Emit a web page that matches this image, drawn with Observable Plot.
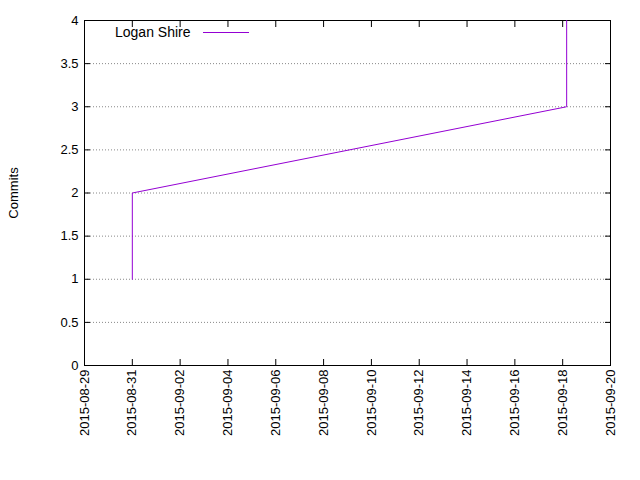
<!DOCTYPE html>
<html>
<head>
<meta charset="utf-8">
<script src="https://cdn.jsdelivr.net/npm/d3@7"></script>
<script src="https://cdn.jsdelivr.net/npm/@observablehq/plot@0.6"></script>
<style>
  body { margin: 0; background: #fff; }
  #wrap { position: relative; width: 640px; height: 480px; font-family: "Liberation Sans", Arial, sans-serif; }
  #legend { position: absolute; left: 115px; top: 24px; font-size: 14px; display: flex; align-items: center; z-index: 2; }
  #legend span.sw { display: inline-block; width: 46px; height: 0; border-top: 1px solid #9400d3; margin-left: 12px; }
</style>
</head>
<body>
<div id="wrap"><div id="legend">Logan Shire<span class="sw"></span></div></div>
<script>
const dates = ["2015-08-31T00:00Z", "2015-08-31T00:00Z", "2015-09-18T04:00Z", "2015-09-18T04:00Z"];
const commits = [1, 2, 3, 4];
const xTicks = ["2015-08-29", "2015-08-31", "2015-09-02", "2015-09-04", "2015-09-06", "2015-09-08",
  "2015-09-10", "2015-09-12", "2015-09-14", "2015-09-16", "2015-09-18", "2015-09-20"];
const yTicks = [0, 0.5, 1, 1.5, 2, 2.5, 3, 3.5, 4];

const data = dates.map((d, i) => ({date: new Date(d), commits: commits[i]}));
const tickDates = xTicks.map(t => new Date(t + "T00:00Z"));

const chart = Plot.plot({
  width: 640,
  height: 480,
  marginLeft: 84,
  marginRight: 30,
  marginTop: 20,
  marginBottom: 115,
  style: {fontFamily: "Liberation Sans, Arial, sans-serif", fontSize: "13px", color: "#000", background: "#fff"},
  x: {type: "utc", domain: [tickDates[0], tickDates[tickDates.length - 1]]},
  y: {domain: [0, 4]},
  marks: [
    Plot.gridY(yTicks.slice(1, -1), {stroke: "#888", strokeOpacity: 1, strokeDasharray: "1,2"}),
    Plot.axisX(tickDates, {tickRotate: -90, tickFormat: d3.utcFormat("%Y-%m-%d"), tickSize: -6, tickPadding: 10, label: null}),
    Plot.axisX(tickDates, {anchor: "top", tickSize: -6, tickFormat: () => "", label: null}),
    Plot.axisY(yTicks, {tickSize: -6, tickPadding: 12, tickFormat: d => String(d), label: "Commits", labelAnchor: "center", labelArrow: "none", labelOffset: 76}),
    Plot.axisY(yTicks, {anchor: "right", tickSize: -6, tickFormat: () => "", label: null}),
    Plot.frame({stroke: "#000"}),
    Plot.line(data, {x: "date", y: "commits", stroke: "#9400d3", strokeWidth: 1})
  ]
});
document.getElementById("wrap").prepend(chart);
chart.style.position = "absolute";
chart.style.left = "0";
chart.style.top = "0";
</script>
</body>
</html>
